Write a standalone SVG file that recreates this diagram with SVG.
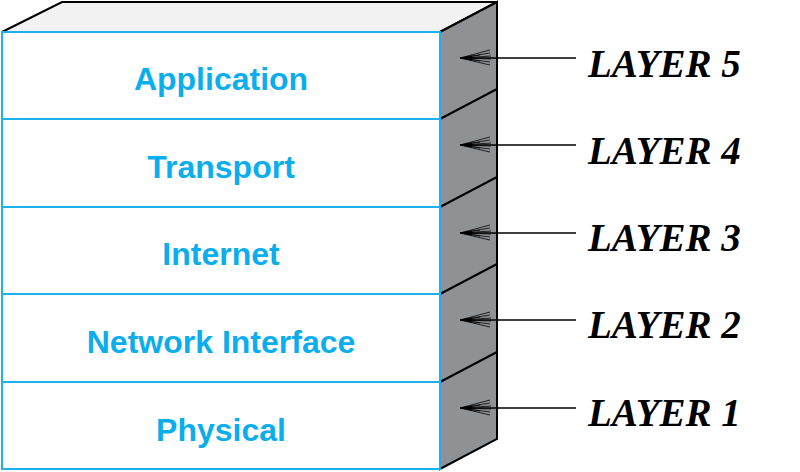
<svg xmlns="http://www.w3.org/2000/svg" width="800" height="472" viewBox="0 0 800 472">
<style>
.top{fill:#F2F2F2;stroke:#000;stroke-width:2}
.side{fill:#8F9294;stroke:#000;stroke-width:2;stroke-linejoin:miter}
.div{stroke:#000;stroke-width:2;fill:none}
.layer{fill:#fff;stroke:#1CB1EA;stroke-width:2}
.lt{font-family:"Liberation Sans",Arial,sans-serif;font-weight:bold;font-size:32px;fill:#0AAEEC;text-anchor:middle}
.lab{font-family:"Liberation Serif","Times New Roman",serif;font-weight:bold;font-style:italic;font-size:39px;fill:#000}
.con{stroke:#000;stroke-width:1.5;fill:none}
.fan{stroke:#000;stroke-width:0.8;fill:none}
</style>
<defs>
<g id="head">
<path class="fan" d="M0,0 L30,-8 M0,0 L30,-5 M0,0 L31,-2 M0,0 L31,1 M0,0 L30,4 M0,0 L30,7 M0,0 L20,-3 M0,0 L20,3"/>
<path d="M0,0 L12,-2.5 L12,2.5 Z" fill="#000"/>
</g>
</defs>
<g id="box">
<polygon class="top" points="2,32 62,2 497,2 440,32"/>
<polygon class="side" points="440,32 497,2 497,439 440,469"/>
<path class="div" d="M440,119 L497,89 M440,207 L497,177 M440,294 L497,264 M440,382 L497,352"/>
</g>
<g id="application"><rect class="layer" x="2" y="32" width="438" height="87"/><text class="lt" x="221" y="90">Application</text></g>
<g id="transport"><rect class="layer" x="2" y="119" width="438" height="88"/><text class="lt" x="221" y="178">Transport</text></g>
<g id="internet"><rect class="layer" x="2" y="207" width="438" height="87"/><text class="lt" x="221" y="265">Internet</text></g>
<g id="network-interface"><rect class="layer" x="2" y="294" width="438" height="88"/><text class="lt" x="221" y="353">Network Interface</text></g>
<g id="physical"><rect class="layer" x="2" y="382" width="438" height="87"/><text class="lt" x="221" y="441">Physical</text></g>
<g id="connectors">
<line class="con" x1="460" y1="58" x2="576" y2="58"/><use href="#head" x="460" y="58"/>
<line class="con" x1="460" y1="145" x2="576" y2="145"/><use href="#head" x="460" y="145"/>
<line class="con" x1="460" y1="233" x2="576" y2="233"/><use href="#head" x="460" y="233"/>
<line class="con" x1="460" y1="320" x2="576" y2="320"/><use href="#head" x="460" y="320"/>
<line class="con" x1="460" y1="408" x2="576" y2="408"/><use href="#head" x="460" y="408"/>
</g>
<g id="labels">
<text class="lab" x="588" y="77">LAYER 5</text>
<text class="lab" x="588" y="164">LAYER 4</text>
<text class="lab" x="588" y="251">LAYER 3</text>
<text class="lab" x="588" y="338">LAYER 2</text>
<text class="lab" x="588" y="426">LAYER 1</text>
</g>
</svg>
